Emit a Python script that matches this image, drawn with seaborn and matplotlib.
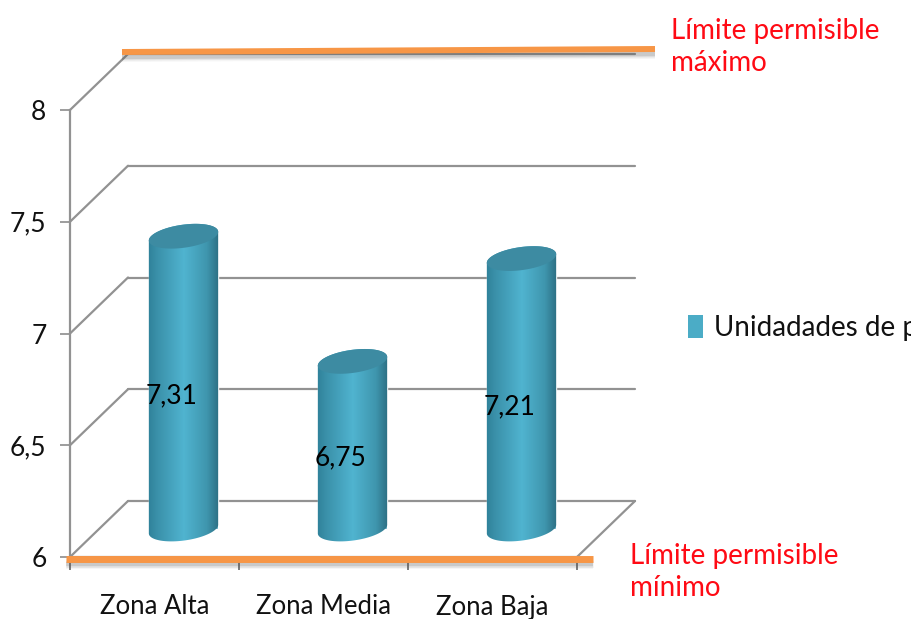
import numpy as np
import pandas as pd
import matplotlib
matplotlib.use("Agg")
import matplotlib.pyplot as plt
from matplotlib.colors import LinearSegmentedColormap
from matplotlib.patches import Patch, PathPatch
from matplotlib.path import Path
import seaborn as sns

zones = ["Zona Alta", "Zona Media", "Zona Baja"]
ph_values = [7.31, 6.75, 7.21]
value_labels = ["7,31", "6,75", "7,21"]
y_ticks = [6, 6.5, 7, 7.5, 8]
y_tick_labels = ["6", "6,5", "7", "7,5", "8"]
limit_min = 6
limit_max = 8
series_name = "Unidadades de pH"
limit_max_text = "Límite permisible\nmáximo"
limit_min_text = "Límite permisible\nmínimo"

W, H = 911, 619
L, R, T, B = 70, 577, 110, 557
sx = (R - L) / 3.0      # pixels per category
sy = (B - T) / 2.0      # pixels per pH unit
DX, DY = 58 / sx, 56 / sy  # chart depth in data units

sns.set_theme(style="white")
plt.rcParams["font.family"] = ["Lato", "Open Sans", "DejaVu Sans"]

fig = plt.figure(figsize=(W / 100, H / 100), dpi=100, facecolor="white")
ax = fig.add_axes([L / W, (H - B) / H, (R - L) / W, (B - T) / H])
ax.patch.set_alpha(0)

df = pd.DataFrame({"zona": zones, "ph": ph_values})
sns.barplot(data=df, x="zona", y="ph", color="#3f9ab5", width=0.41, ax=ax,
            saturation=1, zorder=3, errorbar=None)

GRID = "#929292"
# back wall and depth lines
for t in y_ticks:
    ax.plot([-0.5, -0.5 + DX], [t, t + DY], color=GRID, lw=1.6, clip_on=False, zorder=1)
    ax.plot([-0.5 + DX, 2.5 + DX], [t + DY, t + DY], color=GRID, lw=1.6, clip_on=False, zorder=1)
ax.plot([2.5, 2.5 + DX], [limit_min, limit_min + DY], color=GRID, lw=1.6, clip_on=False, zorder=1)

cmap = LinearSegmentedColormap.from_list(
    "cyl", [(0, "#2f8199"), (0.12, "#3a90a9"), (0.5, "#50b4d0"),
            (0.82, "#3f96ae"), (1, "#2b6c80")])
grad = np.linspace(0, 1, 128).reshape(1, -1)
a, b, phi = 35.0, 11.5, np.deg2rad(8)


def ellipse_pts(cx, cy, t):
    ex = a * np.cos(t) * np.cos(phi) - b * np.sin(t) * np.sin(phi)
    ey = a * np.cos(t) * np.sin(phi) + b * np.sin(t) * np.cos(phi)
    return cx + ex / sx, cy + ey / sy


for patch, v, lab in zip(ax.patches, ph_values, value_labels):
    patch.set_x(patch.get_x() + DX / 2)
    patch.set_y(limit_min + DY / 2)
    patch.set_height(v - limit_min)
    cx = patch.get_x() + patch.get_width() / 2
    x0, x1 = cx - 36 / sx, cx + 36 / sx
    bx, by = ellipse_pts(cx, limit_min + DY / 2, np.linspace(np.pi, 2 * np.pi, 50))
    tx, ty = ellipse_pts(cx, v + DY / 2, np.linspace(0, np.pi, 50))
    verts = np.column_stack([np.r_[bx, tx], np.r_[by, ty]])
    body = Path(np.vstack([verts, verts[0]]), closed=True)
    clip = PathPatch(body, transform=ax.transData, fc="none", ec="none")
    ax.add_patch(clip)
    im = ax.imshow(grad, cmap=cmap, extent=[x0, x1, limit_min, v + DY], aspect="auto",
                   zorder=4, interpolation="bilinear")
    im.set_clip_path(clip)
    ex, ey = ellipse_pts(cx, v + DY / 2, np.linspace(0, 2 * np.pi, 80))
    ax.fill(ex, ey, color="#3d8ba2", zorder=5, lw=0)
    ax.text(cx - 12 / sx, (v + limit_min) / 2 + 15 / sy, lab, ha="center", va="center",
            fontsize=19, color="black", zorder=6)

# limit lines drawn as in the source: max at the back wall, min at the front
top_x = [-0.5 + 52 / sx, 2.5 + 78 / sx]
top_y = [limit_max + 58 / sy, limit_max + 61 / sy]
bot_x = [-0.5 - 4 / sx, 2.5 + 16 / sx]
bot_y = [limit_min - 2 / sy, limit_min - 2 / sy]
for xs, ys, lw in ((top_x, top_y, 4.3), (bot_x, bot_y, 5.0)):
    for off, w, al in ((5, 3.2, .18), (5, 5.0, .10), (5, 7.0, .06)):
        ax.plot(xs, [y - off / sy for y in ys], color="#555555", lw=w, alpha=al,
                clip_on=False, zorder=6, solid_capstyle="butt")
    ax.plot(xs, ys, color="#f79646", lw=lw, clip_on=False, zorder=7, solid_capstyle="butt")

ax.set_xlim(-0.5, 2.5)
ax.set_ylim(limit_min, limit_max)
ax.set_xlabel("")
ax.set_ylabel("")
ax.set_yticks(y_ticks, y_tick_labels)
ax.set_xticks([0, 1, 2], zones)
ax.set_xticks([-0.5, 0.5, 1.5, 2.5], minor=True)
ax.tick_params(axis="x", which="major", length=0, pad=27, labelsize=18.5, labelcolor="#111111")
ax.tick_params(axis="x", which="minor", length=9.5, width=1.2, color="#666666", bottom=True)
ax.tick_params(axis="y", length=7, width=1.2, color="#8c8c8c", pad=10, labelsize=19,
               labelcolor="#111111", left=True)
sns.despine(ax=ax)
for s in ("left", "bottom"):
    ax.spines[s].set_color(GRID)
    ax.spines[s].set_linewidth(1.6)

fig.text(671 / W, 1 - 47 / H, limit_max_text, color="#ff0a14", fontsize=20,
         ha="left", va="center", linespacing=1.3)
fig.text(630 / W, 1 - 572 / H, limit_min_text, color="#ff0a14", fontsize=20,
         ha="left", va="center", linespacing=1.3)

handle = Patch(facecolor="#4bacc6", edgecolor="none", label=series_name)
fig.legend(handles=[handle], loc="center left", bbox_to_anchor=(688 / W, 1 - 328 / H),
           frameon=False, fontsize=20, handlelength=0.55, handleheight=0.9,
           handletextpad=0.4, borderpad=0, borderaxespad=0, labelcolor="#111111")

fig.savefig("out.png", dpi=100, facecolor="white")
